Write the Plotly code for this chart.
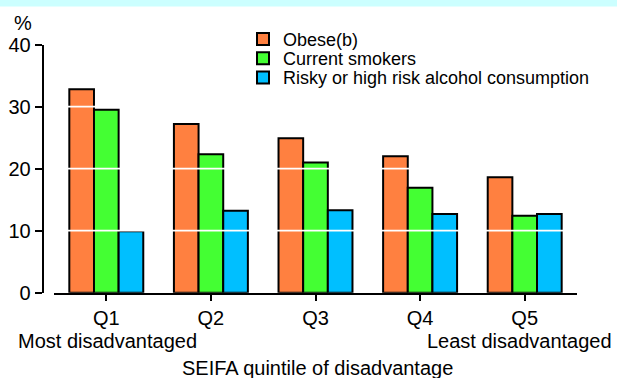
import plotly.graph_objects as go

# SEIFA quintiles and the three risk-factor series (per cent)
quintiles = ["Q1", "Q2", "Q3", "Q4", "Q5"]
obese = [32.8, 27.2, 24.9, 22.0, 18.6]
smokers = [29.5, 22.3, 21.0, 16.9, 12.4]
alcohol = [9.9, 13.2, 13.3, 12.7, 12.7]
y_ticks = [0, 10, 20, 30, 40]

series = [
    ("Obese(b)", obese, "#FF8040"),
    ("Current smokers", smokers, "#44FF33"),
    ("Risky or high risk alcohol consumption", alcohol, "#00BFFF"),
]

FONT = "Liberation Sans, Arial, sans-serif"
W, H = 617, 378
legend_ids = ["legend", "legend2", "legend3"]
legend_rows = [39.2, 58.5, 77.7]  # vertical centre of each legend entry (px from top)

fig = go.Figure()
for (name, vals, col), lid in zip(series, legend_ids):
    fig.add_trace(go.Bar(
        x=quintiles, y=vals, name=name, legend=lid,
        marker=dict(color=col, line=dict(color="black", width=2)),
    ))

# white reference lines drawn on top of the bars
for v in y_ticks[1:-1]:
    fig.add_shape(type="line", xref="x domain", yref="y", x0=0, x1=1, y0=v, y1=v,
                  line=dict(color="white", width=1.8), layer="above")

# pale cyan strip across the top of the page
fig.add_shape(type="rect", xref="paper", yref="paper", x0=0, x1=1,
              y0=(H - 6.5) / H, y1=1, fillcolor="#CCFFFF", line=dict(width=0),
              layer="below")

legend_style = dict(x=243 / W, xanchor="left", yanchor="middle",
                    bgcolor="rgba(0,0,0,0)", font=dict(size=18, family=FONT),
                    borderwidth=0)

fig.update_layout(
    width=W, height=H,
    margin=dict(l=0, r=0, t=0, b=0),
    paper_bgcolor="white", plot_bgcolor="white",
    barmode="group", bargap=0.293, bargroupgap=0,
    font=dict(family=FONT, size=20, color="black"),
    showlegend=True,
    xaxis=dict(domain=[54 / W, 577 / W], type="category",
               showline=True, linecolor="black", linewidth=2,
               ticks="outside", ticklen=6, tickwidth=2, tickcolor="black",
               showgrid=False, zeroline=False, automargin=False,
               tickfont=dict(size=20)),
    yaxis=dict(domain=[(H - 292.7) / H, (H - 44.5) / H], range=[0, 40],
               anchor="free", position=42.7 / W,
               tickvals=y_ticks, ticktext=[str(t) for t in y_ticks],
               showline=True, linecolor="black", linewidth=2,
               ticks="outside", ticklen=7, tickwidth=2, tickcolor="black",
               showgrid=False, zeroline=False, automargin=False,
               tickfont=dict(size=20)),
)
for lid, row in zip(legend_ids, legend_rows):
    fig.update_layout({lid: dict(legend_style, y=(H - row) / H)})

fig.add_annotation(text="%", x=23 / W, y=(H - 23) / H, xref="paper", yref="paper",
                   showarrow=False, xanchor="center", yanchor="middle",
                   font=dict(size=20))
fig.add_annotation(text="Most disadvantaged", x=16 / W, y=(H - 341) / H,
                   xref="paper", yref="paper", showarrow=False,
                   xanchor="left", yanchor="middle", font=dict(size=20))
fig.add_annotation(text="Least disadvantaged", x=614 / W, y=(H - 341) / H,
                   xref="paper", yref="paper", showarrow=False,
                   xanchor="right", yanchor="middle", font=dict(size=20))
fig.add_annotation(text="SEIFA quintile of disadvantage", x=318 / W, y=(H - 368) / H,
                   xref="paper", yref="paper", showarrow=False,
                   xanchor="center", yanchor="middle", font=dict(size=20))

fig.write_html("out.html")
